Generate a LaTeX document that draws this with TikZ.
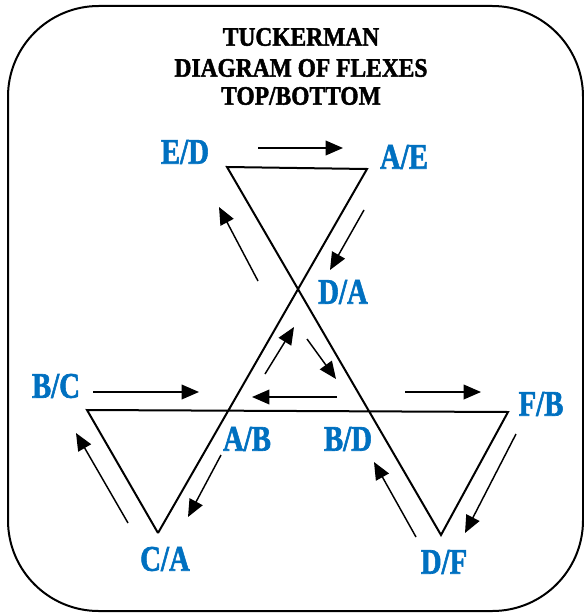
\documentclass[tikz,border=0pt]{standalone}
\usepackage{fontspec}
\usepackage{graphicx}
\setmainfont{Liberation Serif}
\newfontfamily\heavyfont{Liberation Serif}[BoldFeatures={FakeBold=1.8}]
\usetikzlibrary{arrows.meta}
\definecolor{lblblue}{HTML}{0070C0}
\tikzset{
  frame/.style={draw=black, line width=1.5pt, rounded corners=68pt},
  tri/.style={draw=black, line width=1.5pt, line join=miter},
  flex/.style={draw=black, line width=1.1pt, -{Triangle[length=13pt,width=11pt]}},
  lbl/.style={text=lblblue, font=\heavyfont\bfseries\fontsize{27}{27}\selectfont, inner sep=0pt},
  ttl/.style={text=black, font=\heavyfont\bfseries\fontsize{20}{20}\selectfont, inner sep=0pt}
}
\newcommand{\lab}[1]{\scalebox{0.8}[1]{#1}}
\newcommand{\tit}[1]{\scalebox{0.88}[1]{#1}}
\begin{document}
\begin{tikzpicture}[x=0.75pt,y=-0.75pt]
\useasboundingbox (0,0) rectangle (584,613);
\draw[frame] (8,6) rectangle (583,611);
% title
\node[ttl] (t1) at (301,37) {\tit{TUCKERMAN}};
\node[ttl] (t2) at (301,68) {\tit{DIAGRAM OF FLEXES}};
\node[ttl] (t3) at (301,96) {\tit{TOP/BOTTOM}};
% star vertices
\coordinate (ED) at (227,167);
\coordinate (AE) at (367,169);
\coordinate (BCv) at (87,410);
\coordinate (FBv) at (508,412);
\coordinate (CAv) at (158,533);
\coordinate (DFv) at (441,535);
\draw[tri] (CAv) -- (AE) -- (ED) -- (DFv) -- (FBv) -- (BCv) -- (CAv);
% labels
\node[lbl] (lED) at (185,152) {\lab{E/D}};
\node[lbl] (lAE) at (404,157) {\lab{A/E}};
\node[lbl] (lDA) at (343,292) {\lab{D/A}};
\node[lbl] (lBC) at (56,386) {\lab{B/C}};
\node[lbl] (lFB) at (541,404) {\lab{F/B}};
\node[lbl] (lAB) at (247,439) {\lab{A/B}};
\node[lbl] (lBD) at (348,439) {\lab{B/D}};
\node[lbl] (lCA) at (165,559) {\lab{C/A}};
\node[lbl] (lDF) at (444,562) {\lab{D/F}};
% arrows
\draw[flex] (258,148) -- (343,148);
\draw[flex] (364,210) -- (330,270);
\draw[flex] (258,281) -- (219,207);
\draw[flex] (265,374) -- (294,327);
\draw[flex] (307,339) -- (336,379);
\draw[flex] (337,397) -- (252,397);
\draw[flex] (93,392) -- (199,392);
\draw[flex] (405,392) -- (481,392);
\draw[flex] (128,523) -- (76,433);
\draw[flex] (221,455) -- (188,517);
\draw[flex] (416,537) -- (374,462);
\draw[flex] (516,434) -- (465,533);
\end{tikzpicture}
\end{document}
